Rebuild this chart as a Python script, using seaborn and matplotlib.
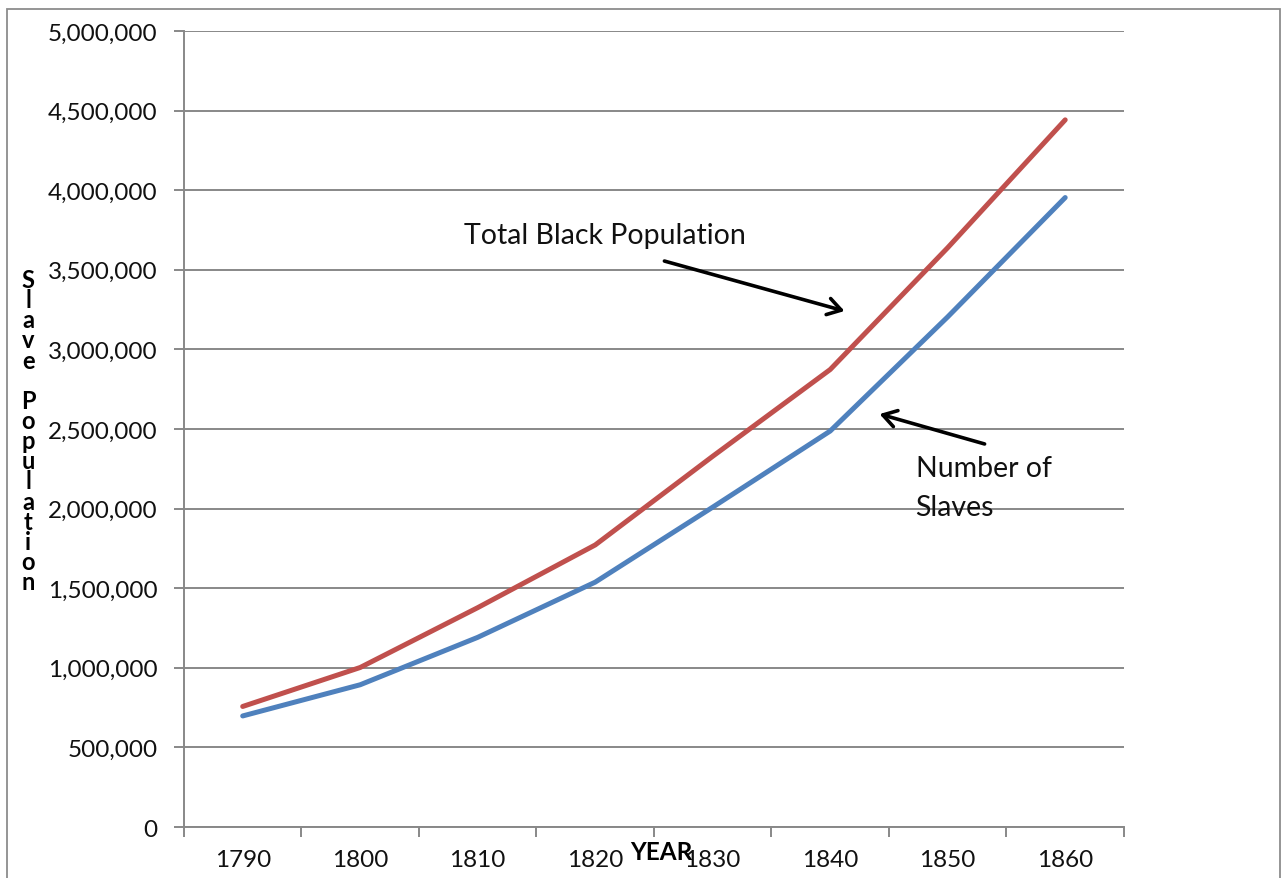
import matplotlib
matplotlib.use("Agg")
import matplotlib.pyplot as plt
import matplotlib.ticker as mticker
from matplotlib.patches import Rectangle
import seaborn as sns
import pandas as pd

years = ["1790", "1800", "1810", "1820", "1830", "1840", "1850", "1860"]
slaves = [697681, 893602, 1191362, 1538022, 2009043, 2487355, 3204313, 3953760]
total_black = [757208, 1002037, 1377808, 1771656, 2328642, 2873648, 3638808, 4441830]

sns.set_theme(style="white")
plt.rcParams["font.family"] = ["Lato", "DejaVu Sans"]

df = pd.DataFrame({
    "idx": list(range(len(years))) * 2,
    "value": slaves + total_black,
    "series": ["Number of Slaves"] * len(years) + ["Total Black Population"] * len(years),
})

fig = plt.figure(figsize=(12.81, 8.79), dpi=100)
ax = fig.add_axes([0.1436, 0.058, 0.7338, 0.9056])

grid_c = "#888888"
sns.lineplot(data=df, x="idx", y="value", hue="series",
             palette={"Number of Slaves": "#4F81BD", "Total Black Population": "#C0504D"},
             linewidth=3.6, legend=False, ax=ax, zorder=3)
for line in ax.lines:
    line.set_solid_capstyle("round")

ax.set_xlim(-0.5, len(years) - 0.5)
ax.set_ylim(0, 5_000_000)
ax.yaxis.set_major_locator(mticker.MultipleLocator(500_000))
ax.yaxis.set_major_formatter(mticker.FuncFormatter(lambda v, p: f"{int(v):,}"))
ax.grid(axis="y", color=grid_c, linewidth=1.4)
ax.set_axisbelow(True)

# category axis: boundary ticks, labels centred between them
ax.set_xticks([i - 0.5 for i in range(len(years) + 1)])
ax.set_xticklabels([])
ax.set_xticks(range(len(years)), minor=True)
ax.set_xticklabels(years, minor=True)
ax.tick_params(axis="x", which="major", length=7, width=1.4, color=grid_c, direction="out", bottom=True)
ax.tick_params(axis="x", which="minor", length=0, pad=16, labelsize=17.5, labelcolor="#111111")
ax.tick_params(axis="y", length=7, width=1.4, color=grid_c, direction="out", left=True, pad=12,
               labelsize=17.5, labelcolor="#111111")

for s in ["top", "right"]:
    ax.spines[s].set_visible(False)
for s in ["left", "bottom"]:
    ax.spines[s].set_color(grid_c)
    ax.spines[s].set_linewidth(1.4)

ax.set_xlabel("")
ax.set_ylabel("")

# stacked vertical axis title
fig.text(0.022, 0.509, "\n".join("Slave Population"), ha="center", va="center",
         fontsize=17, fontweight="bold", linespacing=0.85, color="#000000")
fig.text(0.516, 0.030, "YEAR", ha="center", va="center", fontsize=17.5,
         fontweight="bold", color="#000000")

# callouts
arrow = dict(arrowstyle="->,head_length=0.8,head_width=0.5", color="black", lw=2.6,
             shrinkA=0, shrinkB=0)
ax.text(1.885, 3_668_000, "Total Black Population", fontsize=20.5, va="baseline", ha="left",
        color="#111111")
ax.annotate("", xy=(5.122, 3_241_000), xytext=(3.589, 3_555_000), arrowprops=arrow)
ax.text(5.727, 2_205_000, "Number of", fontsize=20.5, va="baseline", ha="left", color="#111111")
ax.text(5.727, 1_960_000, "Slaves", fontsize=20.5, va="baseline", ha="left", color="#111111")
ax.annotate("", xy=(5.42, 2_594_000), xytext=(6.314, 2_406_000), arrowprops=arrow)

# chart frame
fig.patches.append(Rectangle((0.0055, -0.01), 0.9935, 0.9986, transform=fig.transFigure,
                             fill=False, edgecolor="#8c8c8c", linewidth=1.3))

fig.savefig("out.png", dpi=100, facecolor="white")
